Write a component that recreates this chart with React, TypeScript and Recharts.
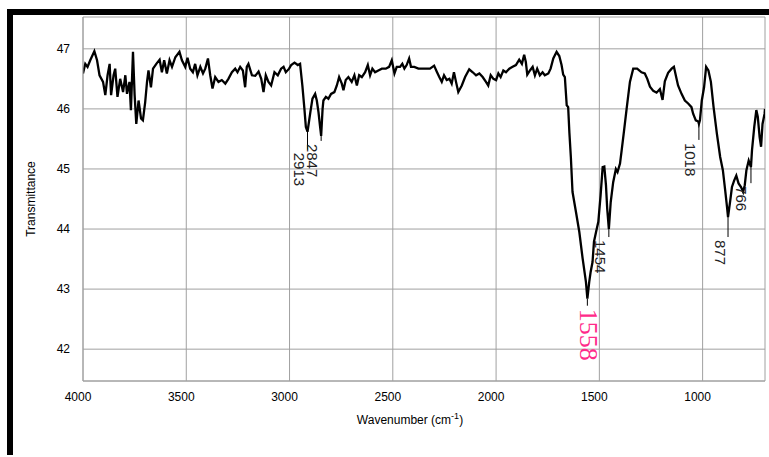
import { CartesianGrid, Line, LineChart, ReferenceDot, XAxis, YAxis } from 'recharts'

// spectrum, high wavenumber first
const WAVENUMBERS = [
  4000, 3989, 3978, 3965, 3945, 3932, 3920, 3903, 3892, 3881, 3871, 3864, 3852, 3844, 3833, 3820,
  3806, 3795, 3787, 3775, 3768, 3758, 3750, 3742, 3731, 3719, 3710, 3699, 3690, 3683, 3671, 3661,
  3645, 3629, 3618, 3607, 3594, 3581, 3569, 3553, 3533, 3521, 3505, 3494, 3481, 3468, 3457, 3446,
  3432, 3419, 3408, 3395, 3384, 3373, 3360, 3344, 3328, 3311, 3296, 3279, 3263, 3252, 3239, 3226,
  3215, 3207, 3199, 3182, 3166, 3150, 3137, 3126, 3115, 3102, 3089, 3073, 3057, 3041, 3029, 3018,
  3002, 2992, 2976, 2960, 2949, 2938, 2928, 2921, 2913, 2899, 2889, 2876, 2868, 2860, 2852, 2847,
  2840, 2836, 2824, 2812, 2799, 2783, 2771, 2760, 2747, 2739, 2728, 2715, 2699, 2686, 2674, 2663,
  2650, 2634, 2621, 2610, 2599, 2586, 2570, 2553, 2534, 2518, 2505, 2492, 2481, 2465, 2454, 2444,
  2433, 2421, 2412, 2396, 2376, 2344, 2320, 2300, 2287, 2275, 2263, 2252, 2239, 2226, 2215, 2204,
  2194, 2183, 2166, 2150, 2130, 2113, 2097, 2081, 2065, 2049, 2038, 2026, 2013, 2000, 1989, 1978,
  1965, 1952, 1936, 1920, 1904, 1888, 1875, 1864, 1856, 1849, 1836, 1823, 1812, 1801, 1788, 1775,
  1764, 1747, 1736, 1723, 1707, 1694, 1683, 1675, 1667, 1658, 1651, 1645, 1638, 1630, 1613, 1597,
  1581, 1565, 1558, 1549, 1542, 1533, 1526, 1516, 1505, 1494, 1484, 1476, 1468, 1462, 1454, 1445,
  1433, 1420, 1412, 1400, 1392, 1381, 1368, 1352, 1336, 1317, 1296, 1280, 1268, 1255, 1239, 1223,
  1207, 1194, 1183, 1167, 1150, 1139, 1130, 1119, 1102, 1086, 1070, 1054, 1046, 1033, 1021, 1018,
  1013, 1004, 993, 983, 972, 960, 947, 931, 915, 902, 891, 882, 877, 866, 858, 847,
  837, 826, 814, 804, 796, 788, 777, 766, 761, 750, 740, 733, 724, 717, 710, 700,
  698,
]

const TRANSMITTANCE = [
  46.59, 46.75, 46.7, 46.81, 46.96, 46.81, 46.56, 46.45, 46.23, 46.56, 46.75, 46.23, 46.56, 46.67, 46.2, 46.5,
  46.28, 46.56, 46.25, 46.45, 45.98, 46.95, 46.23, 45.75, 46.14, 45.84, 45.81, 46.11, 46.45, 46.64, 46.36, 46.67,
  46.75, 46.82, 46.61, 46.81, 46.59, 46.81, 46.7, 46.86, 46.95, 46.81, 46.7, 46.85, 46.67, 46.61, 46.75, 46.56,
  46.7, 46.59, 46.67, 46.84, 46.56, 46.34, 46.53, 46.45, 46.48, 46.42, 46.5, 46.61, 46.67, 46.61, 46.7, 46.64,
  46.36, 46.7, 46.75, 46.56, 46.55, 46.62, 46.5, 46.28, 46.56, 46.45, 46.39, 46.61, 46.56, 46.67, 46.7, 46.61,
  46.67, 46.73, 46.77, 46.73, 46.75, 46.39, 46.0, 45.7, 45.62, 45.95, 46.17, 46.25, 46.14, 45.95, 45.7, 45.55,
  46.0, 46.14, 46.2, 46.17, 46.25, 46.28, 46.39, 46.53, 46.42, 46.31, 46.48, 46.53, 46.45, 46.56, 46.39, 46.56,
  46.53, 46.61, 46.73, 46.56, 46.67, 46.61, 46.64, 46.67, 46.67, 46.7, 46.81, 46.59, 46.7, 46.7, 46.75, 46.67,
  46.73, 46.84, 46.7, 46.7, 46.67, 46.67, 46.67, 46.72, 46.62, 46.53, 46.45, 46.56, 46.48, 46.5, 46.42, 46.61,
  46.45, 46.28, 46.39, 46.53, 46.66, 46.61, 46.56, 46.59, 46.53, 46.45, 46.39, 46.56, 46.5, 46.48, 46.59, 46.53,
  46.64, 46.61, 46.67, 46.7, 46.73, 46.82, 46.75, 46.9, 46.78, 46.57, 46.64, 46.7, 46.56, 46.67, 46.56, 46.61,
  46.56, 46.59, 46.67, 46.84, 46.95, 46.88, 46.73, 46.57, 46.53, 46.06, 46.03, 45.6, 45.2, 44.62, 44.28, 43.95,
  43.51, 43.12, 42.84, 43.12, 43.29, 43.45, 43.79, 43.95, 44.12, 44.56, 45.03, 45.04, 44.73, 44.34, 44.0, 44.45,
  44.78, 45.0, 44.95, 45.09, 45.31, 45.62, 46.0, 46.45, 46.67, 46.67, 46.61, 46.59, 46.5, 46.37, 46.3, 46.27,
  46.33, 46.15, 46.46, 46.6, 46.67, 46.7, 46.56, 46.39, 46.25, 46.14, 46.09, 46.03, 45.92, 45.81, 45.79, 45.75,
  45.81, 46.14, 46.36, 46.7, 46.64, 46.45, 46.03, 45.59, 45.2, 44.98, 44.65, 44.37, 44.2, 44.48, 44.7, 44.81,
  44.89, 44.76, 44.7, 44.62, 44.73, 44.98, 45.14, 45.03, 45.31, 45.7, 45.98, 45.87, 45.53, 45.37, 45.75, 45.92,
  46.0,
]

const X_TICKS = [4000, 3500, 3000, 2500, 2000, 1500, 1000]
const Y_TICKS = [42, 43, 44, 45, 46, 47]

const PEAK_WAVENUMBERS = [2913, 2847, 1558, 1454, 1018, 877, 766]
const PEAK_TRANSMITTANCE = [45.62, 45.55, 42.84, 44.0, 45.75, 44.2, 45.03]
const PEAK_LABELS = ['2913', '2847', '1558', '1454', '1018', '877', '766']

// where each peak label sits relative to its peak (pixels)
const PEAK_STYLE = [
  { dx: -8, lead: 18, color: '#222', size: 15, font: 'Arial, "Liberation Sans", sans-serif' },
  { dx: -9, lead: 5, color: '#222', size: 15, font: 'Arial, "Liberation Sans", sans-serif' },
  { dx: 1, lead: 7, color: '#ff2a8a', size: 26, font: '"Liberation Serif", "Times New Roman", serif' },
  { dx: -8, lead: 8, color: '#222', size: 15, font: 'Arial, "Liberation Sans", sans-serif' },
  { dx: -8, lead: 16, color: '#222', size: 15, font: 'Arial, "Liberation Sans", sans-serif' },
  { dx: -8, lead: 20, color: '#222', size: 15, font: 'Arial, "Liberation Sans", sans-serif' },
  { dx: -9, lead: 16, color: '#222', size: 15, font: 'Arial, "Liberation Sans", sans-serif' },
]

const GRID = '#a0a0a0'
const FONT = 'Arial, "Liberation Sans", sans-serif'

const data = WAVENUMBERS.map((wn, i) => ({ wn, t: TRANSMITTANCE[i] }))

function PeakMark(props: any) {
  const { cx, cy, text, dx, lead, color, size, font } = props
  if (cx == null || cy == null) return null
  const ax = cx + dx
  const top = cy + lead + 3
  return (
    <g>
      <line x1={cx} y1={cy} x2={cx} y2={cy + lead} stroke="#000" strokeWidth={1} />
      <text
        x={ax}
        y={top}
        transform={`rotate(90 ${ax} ${top})`}
        dominantBaseline="central"
        fontSize={size}
        fontFamily={font}
        fill={color}
      >
        {text}
      </text>
    </g>
  )
}

export default function App() {
  return (
    <div style={{ position: 'absolute', left: 0, top: 0, width: 769, height: 457, background: '#fff' }}>
      <LineChart width={769} height={457} data={data} margin={{ top: 17, right: 4, bottom: 46, left: 23 }}>
        <CartesianGrid stroke={GRID} strokeWidth={1} />
        <XAxis
          dataKey="wn"
          type="number"
          domain={[698, 4000]}
          reversed
          allowDataOverflow
          ticks={X_TICKS}
          interval={0}
          height={30}
          tickLine={false}
          tickMargin={5}
          axisLine={{ stroke: GRID }}
          tick={{ fontSize: 12, fill: '#000', fontFamily: FONT, dx: -5 }}
          label={{
            content: ({ viewBox }: any) => (
              <text
                x={viewBox.x + viewBox.width / 2 - 14}
                y={424}
                textAnchor="middle"
                fontSize={12}
                fontFamily={FONT}
                fill="#000"
              >
                Wavenumber (cm
                <tspan dy={-5} fontSize={9}>-1</tspan>
                <tspan dy={5}>)</tspan>
              </text>
            ),
          }}
        />
        <XAxis
          xAxisId="top"
          orientation="top"
          type="number"
          domain={[698, 4000]}
          reversed
          height={0}
          ticks={[]}
          tick={false}
          tickLine={false}
          axisLine={{ stroke: GRID }}
        />
        <YAxis
          type="number"
          domain={[41.47, 47.53]}
          allowDataOverflow
          ticks={Y_TICKS}
          interval={0}
          width={60}
          tickLine={false}
          tickMargin={7}
          axisLine={{ stroke: GRID }}
          tick={{ fontSize: 12, fill: '#000', fontFamily: FONT }}
          label={{
            content: ({ viewBox }: any) => {
              const x = viewBox.x + 8
              const y = viewBox.y + viewBox.height / 2
              return (
                <text
                  x={x}
                  y={y}
                  transform={`rotate(-90 ${x} ${y})`}
                  textAnchor="middle"
                  dominantBaseline="central"
                  fontSize={12}
                  fontFamily={FONT}
                  fill="#000"
                >
                  Transmittance
                </text>
              )
            },
          }}
        />
        <YAxis
          yAxisId="right"
          orientation="right"
          type="number"
          domain={[41.47, 47.53]}
          width={0}
          ticks={[]}
          tick={false}
          tickLine={false}
          axisLine={{ stroke: GRID }}
        />
        <Line
          type="linear"
          dataKey="t"
          stroke="#000"
          strokeWidth={2.3}
          dot={false}
          activeDot={false}
          isAnimationActive={false}
        />
        {PEAK_WAVENUMBERS.map((wn, i) => (
          <ReferenceDot
            key={PEAK_LABELS[i]}
            x={wn}
            y={PEAK_TRANSMITTANCE[i]}
            r={0}
            ifOverflow="visible"
            shape={(p: any) => <PeakMark {...p} text={PEAK_LABELS[i]} {...PEAK_STYLE[i]} />}
          />
        ))}
      </LineChart>
      <div style={{ position: 'absolute', left: 8, top: 9, width: 761, height: 6, background: '#000' }} />
      <div style={{ position: 'absolute', left: 7, top: 9, width: 6, height: 446, background: '#000' }} />
    </div>
  )
}
